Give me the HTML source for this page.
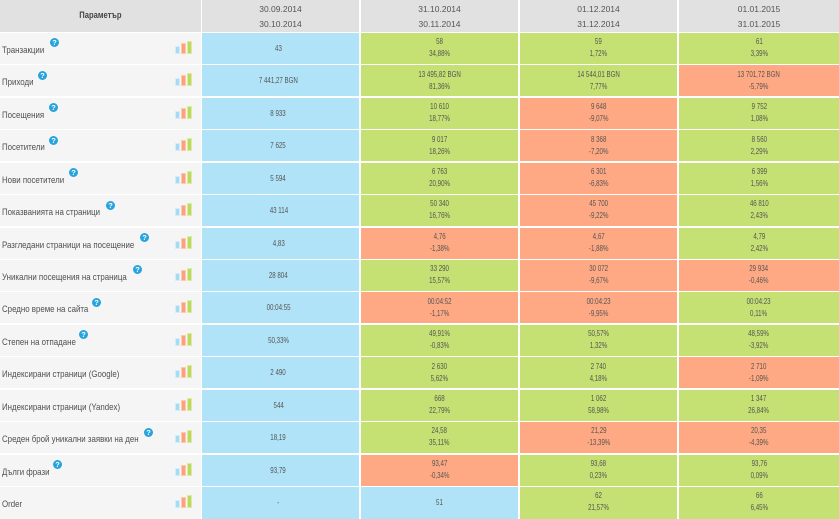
<!DOCTYPE html>
<html><head><meta charset="utf-8">
<style>
html,body{margin:0;padding:0;background:#fff;}
body{width:839px;height:519px;position:relative;overflow:hidden;font-family:"Liberation Sans",sans-serif;}
.r{position:absolute;left:0;width:839px;height:31px;}
.c{position:absolute;top:0;height:100%;box-sizing:border-box;}
.c0{left:0;width:201px;background:#f5f5f5;}
.c1{left:202px;width:157px;padding-right:4px;}
.c2{left:361px;width:157px;}
.c3{left:520px;width:157px;}
.c4{left:679px;width:160px;}
.h .c{background:#e1e1e1;}
.b{background:#b0e3f7;}
.g{background:#c5e073;}
.o{background:#fea983;}
.v{text-align:center;font-size:8px;color:#555;line-height:12px;padding-top:3.3px;}
.v span{display:inline-block;transform:scaleX(.77);text-align:center;}
.s{line-height:31px;padding-top:0;}
.lb{position:absolute;left:2px;top:0;line-height:31px;padding-top:1px;font-size:9.4px;color:#505050;white-space:nowrap;}
.lb span{display:inline-block;transform:scaleX(.84);transform-origin:0 50%;}
.q{position:absolute;top:5.4px;width:9px;height:9px;border-radius:50%;background:#27a3dd;color:#fff;font:bold 7.5px "Liberation Sans",sans-serif;line-height:9px;text-align:center;}
.bars{position:absolute;left:175px;top:0;width:18px;height:31px;}
.bars i{position:absolute;bottom:10px;width:5px;box-sizing:border-box;display:block;}
.bars .x1{left:0;height:8px;background:#a6dcf3;border:1px solid #d2eefa;}
.bars .x2{left:6px;height:11px;background:#fba27c;border:1px solid #fdc9b1;}
.bars .x3{left:11.5px;height:13px;background:#bcd85e;border:1px solid #dbeba3;}
.hd{text-align:center;font:8.5px "Liberation Sans",sans-serif;color:#555;line-height:14.5px;padding-top:2px;}
.pm{text-align:center;font-weight:bold;font-size:9.5px;color:#444;line-height:32px;}
.pm span{display:inline-block;transform:scaleX(.8);}
</style></head><body>

<div class="r h" style="top:0;height:32px;">
  <div class="c c0 pm"><span>Параметър</span></div>
  <div class="c c1 hd" style="padding-right:0">30.09.2014<br>30.10.2014</div>
  <div class="c c2 hd">31.10.2014<br>30.11.2014</div>
  <div class="c c3 hd">01.12.2014<br>31.12.2014</div>
  <div class="c c4 hd">01.01.2015<br>31.01.2015</div>
</div>

<div class="r" style="top:33px;">
  <div class="c c0"><div class="lb"><span>Транзакции</span></div><div class="q" style="left:50px">?</div><div class="bars"><i class="x1"></i><i class="x2"></i><i class="x3"></i></div></div>
  <div class="c c1 b v s"><span>43</span></div>
  <div class="c c2 g v"><span>58<br>34,88%</span></div>
  <div class="c c3 g v"><span>59<br>1,72%</span></div>
  <div class="c c4 g v"><span>61<br>3,39%</span></div>
</div>

<div class="r" style="top:65.4px;">
  <div class="c c0"><div class="lb"><span>Приходи</span></div><div class="q" style="left:38px">?</div><div class="bars"><i class="x1"></i><i class="x2"></i><i class="x3"></i></div></div>
  <div class="c c1 b v s"><span>7 441,27 BGN</span></div>
  <div class="c c2 g v"><span>13 495,82 BGN<br>81,36%</span></div>
  <div class="c c3 g v"><span>14 544,01 BGN<br>7,77%</span></div>
  <div class="c c4 o v"><span>13 701,72 BGN<br>-5,79%</span></div>
</div>

<div class="r" style="top:97.9px;">
  <div class="c c0"><div class="lb"><span>Посещения</span></div><div class="q" style="left:49px">?</div><div class="bars"><i class="x1"></i><i class="x2"></i><i class="x3"></i></div></div>
  <div class="c c1 b v s"><span>8 933</span></div>
  <div class="c c2 g v"><span>10 610<br>18,77%</span></div>
  <div class="c c3 o v"><span>9 648<br>-9,07%</span></div>
  <div class="c c4 g v"><span>9 752<br>1,08%</span></div>
</div>

<div class="r" style="top:130.3px;">
  <div class="c c0"><div class="lb"><span>Посетители</span></div><div class="q" style="left:49px">?</div><div class="bars"><i class="x1"></i><i class="x2"></i><i class="x3"></i></div></div>
  <div class="c c1 b v s"><span>7 625</span></div>
  <div class="c c2 g v"><span>9 017<br>18,26%</span></div>
  <div class="c c3 o v"><span>8 368<br>-7,20%</span></div>
  <div class="c c4 g v"><span>8 560<br>2,29%</span></div>
</div>

<div class="r" style="top:162.7px;">
  <div class="c c0"><div class="lb"><span>Нови посетители</span></div><div class="q" style="left:69px">?</div><div class="bars"><i class="x1"></i><i class="x2"></i><i class="x3"></i></div></div>
  <div class="c c1 b v s"><span>5 594</span></div>
  <div class="c c2 g v"><span>6 763<br>20,90%</span></div>
  <div class="c c3 o v"><span>6 301<br>-6,83%</span></div>
  <div class="c c4 g v"><span>6 399<br>1,56%</span></div>
</div>

<div class="r" style="top:195.2px;">
  <div class="c c0"><div class="lb"><span>Показванията на страници</span></div><div class="q" style="left:106px">?</div><div class="bars"><i class="x1"></i><i class="x2"></i><i class="x3"></i></div></div>
  <div class="c c1 b v s"><span>43 114</span></div>
  <div class="c c2 g v"><span>50 340<br>16,76%</span></div>
  <div class="c c3 o v"><span>45 700<br>-9,22%</span></div>
  <div class="c c4 g v"><span>46 810<br>2,43%</span></div>
</div>

<div class="r" style="top:227.6px;">
  <div class="c c0"><div class="lb"><span>Разгледани страници на посещение</span></div><div class="q" style="left:140px">?</div><div class="bars"><i class="x1"></i><i class="x2"></i><i class="x3"></i></div></div>
  <div class="c c1 b v s"><span>4,83</span></div>
  <div class="c c2 o v"><span>4,76<br>-1,38%</span></div>
  <div class="c c3 o v"><span>4,67<br>-1,88%</span></div>
  <div class="c c4 g v"><span>4,79<br>2,42%</span></div>
</div>

<div class="r" style="top:260px;">
  <div class="c c0"><div class="lb"><span>Уникални посещения на страница</span></div><div class="q" style="left:133px">?</div><div class="bars"><i class="x1"></i><i class="x2"></i><i class="x3"></i></div></div>
  <div class="c c1 b v s"><span>28 804</span></div>
  <div class="c c2 g v"><span>33 290<br>15,57%</span></div>
  <div class="c c3 o v"><span>30 072<br>-9,67%</span></div>
  <div class="c c4 o v"><span>29 934<br>-0,46%</span></div>
</div>

<div class="r" style="top:292.4px;">
  <div class="c c0"><div class="lb"><span>Средно време на сайта</span></div><div class="q" style="left:92px">?</div><div class="bars"><i class="x1"></i><i class="x2"></i><i class="x3"></i></div></div>
  <div class="c c1 b v s"><span>00:04:55</span></div>
  <div class="c c2 o v"><span>00:04:52<br>-1,17%</span></div>
  <div class="c c3 o v"><span>00:04:23<br>-9,95%</span></div>
  <div class="c c4 g v"><span>00:04:23<br>0,11%</span></div>
</div>

<div class="r" style="top:324.9px;">
  <div class="c c0"><div class="lb"><span>Степен на отпадане</span></div><div class="q" style="left:79px">?</div><div class="bars"><i class="x1"></i><i class="x2"></i><i class="x3"></i></div></div>
  <div class="c c1 b v s"><span>50,33%</span></div>
  <div class="c c2 g v"><span>49,91%<br>-0,83%</span></div>
  <div class="c c3 g v"><span>50,57%<br>1,32%</span></div>
  <div class="c c4 g v"><span>48,59%<br>-3,92%</span></div>
</div>

<div class="r" style="top:357.3px;">
  <div class="c c0"><div class="lb"><span>Индексирани страници (Google)</span></div><div class="bars"><i class="x1"></i><i class="x2"></i><i class="x3"></i></div></div>
  <div class="c c1 b v s"><span>2 490</span></div>
  <div class="c c2 g v"><span>2 630<br>5,62%</span></div>
  <div class="c c3 g v"><span>2 740<br>4,18%</span></div>
  <div class="c c4 o v"><span>2 710<br>-1,09%</span></div>
</div>

<div class="r" style="top:389.7px;">
  <div class="c c0"><div class="lb"><span>Индексирани страници (Yandex)</span></div><div class="bars"><i class="x1"></i><i class="x2"></i><i class="x3"></i></div></div>
  <div class="c c1 b v s"><span>544</span></div>
  <div class="c c2 g v"><span>668<br>22,79%</span></div>
  <div class="c c3 g v"><span>1 062<br>58,98%</span></div>
  <div class="c c4 g v"><span>1 347<br>26,84%</span></div>
</div>

<div class="r" style="top:422.2px;">
  <div class="c c0"><div class="lb"><span>Среден брой уникални заявки на ден</span></div><div class="q" style="left:144px">?</div><div class="bars"><i class="x1"></i><i class="x2"></i><i class="x3"></i></div></div>
  <div class="c c1 b v s"><span>18,19</span></div>
  <div class="c c2 g v"><span>24,58<br>35,11%</span></div>
  <div class="c c3 o v"><span>21,29<br>-13,39%</span></div>
  <div class="c c4 o v"><span>20,35<br>-4,39%</span></div>
</div>

<div class="r" style="top:454.6px;">
  <div class="c c0"><div class="lb"><span>Дълги фрази</span></div><div class="q" style="left:53px">?</div><div class="bars"><i class="x1"></i><i class="x2"></i><i class="x3"></i></div></div>
  <div class="c c1 b v s"><span>93,79</span></div>
  <div class="c c2 o v"><span>93,47<br>-0,34%</span></div>
  <div class="c c3 g v"><span>93,68<br>0,23%</span></div>
  <div class="c c4 g v"><span>93,76<br>0,09%</span></div>
</div>

<div class="r" style="top:487px;height:32px;">
  <div class="c c0"><div class="lb"><span>Order</span></div><div class="bars"><i class="x1"></i><i class="x2"></i><i class="x3"></i></div></div>
  <div class="c c1 b v s"><span>-</span></div>
  <div class="c c2 b v s"><span>51</span></div>
  <div class="c c3 g v"><span>62<br>21,57%</span></div>
  <div class="c c4 g v"><span>66<br>6,45%</span></div>
</div>

</body></html>
